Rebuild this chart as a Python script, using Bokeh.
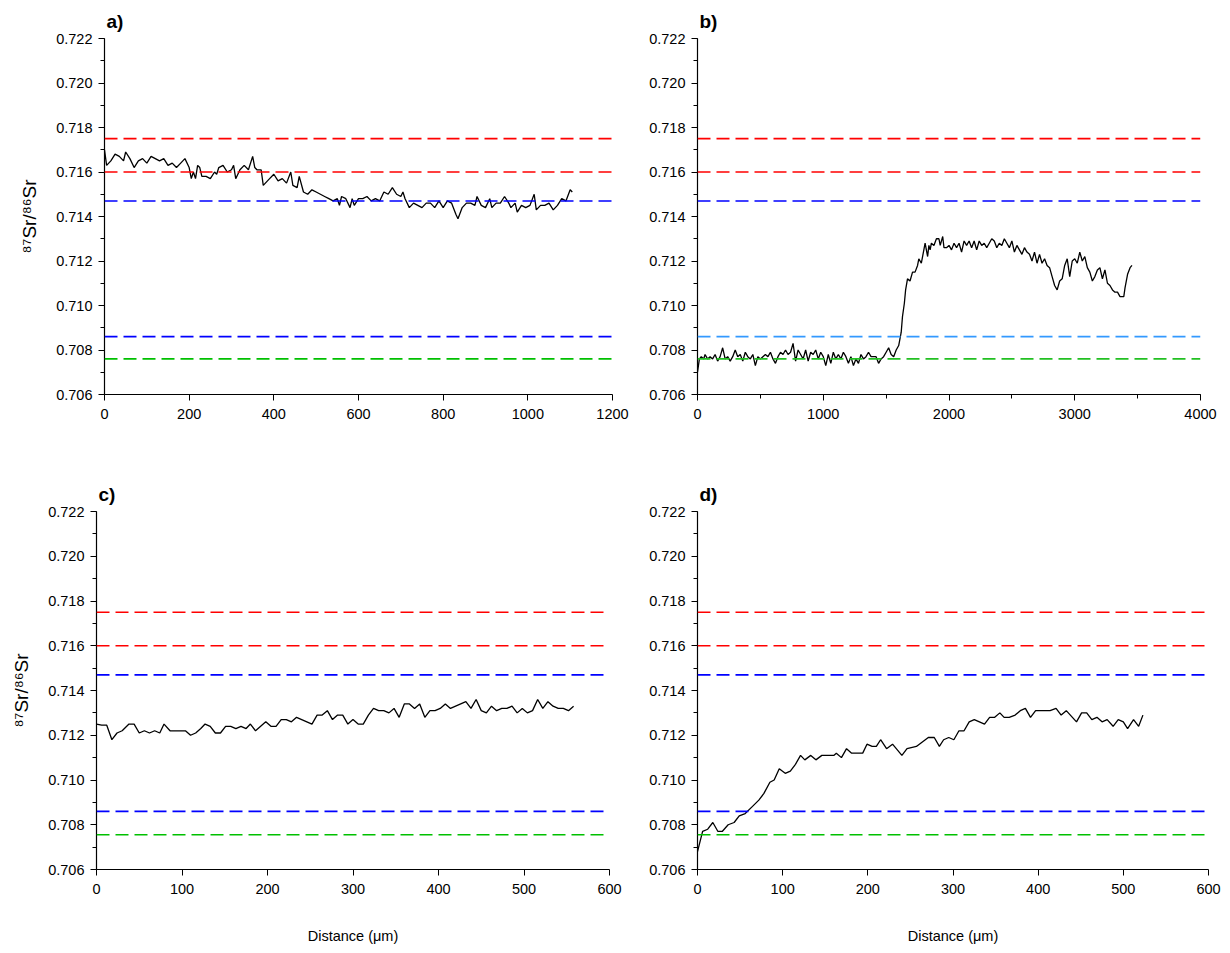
from bokeh.plotting import figure
from bokeh.layouts import column, row
from bokeh.models import Range1d, SingleIntervalTicker, Span, PrintfTickFormatter
from bokeh.embed import file_html
from bokeh.resources import INLINE

# ---------------- data ----------------
y_label_text = "\u2078\u2077Sr/\u2078\u2076Sr"
x_label_text = "Distance (\u03bcm)"
panel_letters = ["a)", "b)", "c)", "d)"]

ref_a = [0.7175, 0.7160, 0.7147, 0.7086, 0.7076]
ref_b = [0.7175, 0.7160, 0.7147, 0.7086, 0.7076]
ref_c = [0.7175, 0.7160, 0.7147, 0.7086, 0.70755]
ref_d = [0.7175, 0.7160, 0.7147, 0.7086, 0.70755]
ref_colors_a = ["#FF0000", "#FF0000", "#0000FF", "#0000FF", "#00C000"]
ref_colors_b = ["#FF0000", "#FF0000", "#0000FF", "#3399FF", "#22C022"]

a_x = [0, 5, 15, 25, 35, 45, 50, 60, 70, 80, 90, 100, 110, 120, 130, 140, 150, 160, 170, 180,
       190, 200, 205, 210, 215, 220, 225, 230, 240, 250, 260, 265, 270, 280, 290, 300, 305, 310,
       320, 330, 340, 350, 355, 360, 370, 375, 390, 400, 410, 420, 430, 440, 445, 455, 460, 470,
       480, 490, 500, 510, 520, 530, 540, 550, 555, 560, 570, 580, 585, 590, 600, 610, 620, 630,
       640, 650, 660, 670, 680, 690, 700, 705, 710, 720, 730, 740, 750, 760, 770, 780, 790, 800,
       810, 820, 830, 835, 845, 855, 865, 875, 880, 890, 900, 910, 915, 925, 935, 945, 955, 960,
       970, 975, 985, 995, 1005, 1015, 1020, 1030, 1040, 1050, 1060, 1070, 1080, 1090, 1100, 1105]
a_y = [0.7170, 0.7163, 0.7165, 0.7168, 0.7167, 0.7165, 0.7169, 0.7166, 0.7162, 0.7165, 0.7166,
       0.7164, 0.7167, 0.7166, 0.7165, 0.7166, 0.7163, 0.7164, 0.7162, 0.7164, 0.7166, 0.7162,
       0.7157, 0.7160, 0.7157, 0.7163, 0.7162, 0.7158, 0.7158, 0.7157, 0.7160, 0.7159, 0.7162,
       0.7163, 0.7160, 0.7161, 0.7163, 0.7157, 0.7161, 0.7163, 0.7161, 0.7167, 0.7162, 0.7161,
       0.7161, 0.7154, 0.7157, 0.7159, 0.7156, 0.7157, 0.7155, 0.7160, 0.7154, 0.7153, 0.7158,
       0.7151, 0.7150, 0.7152, 0.7151, 0.7150, 0.7149, 0.7148, 0.7147, 0.7148, 0.7145, 0.7149,
       0.7148, 0.7144, 0.7148, 0.7145, 0.7148, 0.7148, 0.7149, 0.7147, 0.7148, 0.7147, 0.7151,
       0.7150, 0.7153, 0.7150, 0.7149, 0.7151, 0.7148, 0.7144, 0.7146, 0.7145, 0.7144, 0.7146,
       0.7146, 0.7144, 0.7147, 0.7144, 0.7147, 0.7146, 0.7141, 0.7139, 0.7144, 0.7146, 0.7146,
       0.7145, 0.7149, 0.7145, 0.7144, 0.7148, 0.7144, 0.7146, 0.7146, 0.7149, 0.7146, 0.7144,
       0.7146, 0.7142, 0.7145, 0.7144, 0.7145, 0.7150, 0.7143, 0.7145, 0.7145, 0.7146, 0.7143,
       0.7145, 0.7148, 0.7147, 0.7152, 0.7151]

b_x = [0, 15, 30, 50, 60, 80, 100, 120, 140, 160, 180, 200, 220, 240, 260, 280, 300, 320, 340,
       360, 380, 400, 420, 440, 460, 480, 500, 520, 540, 560, 580, 600, 620, 640, 660, 680, 700,
       720, 740, 760, 770, 780, 800, 820, 840, 860, 880, 900, 920, 940, 960, 980, 1000, 1020,
       1040, 1060, 1080, 1100, 1120, 1140, 1160, 1180, 1200, 1220, 1240, 1260, 1280, 1300, 1320,
       1340, 1360, 1380, 1400, 1420, 1440, 1460, 1480, 1500, 1520, 1540, 1560, 1580, 1600, 1610,
       1620, 1630, 1645, 1655, 1670, 1690, 1710, 1730, 1750, 1760, 1780, 1800, 1810, 1830, 1840,
       1850, 1860, 1880, 1900, 1920, 1930, 1950, 1960, 1980, 2000, 2020, 2040, 2060, 2080, 2100,
       2120, 2140, 2160, 2180, 2200, 2220, 2240, 2260, 2280, 2300, 2320, 2340, 2360, 2380, 2400,
       2420, 2440, 2460, 2480, 2500, 2520, 2540, 2560, 2580, 2600, 2620, 2640, 2660, 2680, 2700,
       2720, 2740, 2760, 2780, 2800, 2820, 2840, 2860, 2880, 2900, 2920, 2940, 2960, 2980, 3000,
       3020, 3040, 3060, 3080, 3100, 3120, 3140, 3160, 3180, 3200, 3220, 3240, 3260, 3280, 3300,
       3320, 3340, 3360, 3380, 3390, 3400, 3420, 3440, 3455]
b_y = [0.7070, 0.7076, 0.7077, 0.7076, 0.7078, 0.7076, 0.7077, 0.7076, 0.7078, 0.7075, 0.7077,
       0.7081, 0.7076, 0.7077, 0.7075, 0.7077, 0.7080, 0.7077, 0.7078, 0.7075, 0.7079, 0.7077,
       0.7076, 0.7078, 0.7073, 0.7077, 0.7076, 0.7077, 0.7078, 0.7077, 0.7079, 0.7076, 0.7074,
       0.7077, 0.7079, 0.7078, 0.7080, 0.7078, 0.7079, 0.7083, 0.7079, 0.7075, 0.7080, 0.7078,
       0.7076, 0.7080, 0.7075, 0.7079, 0.7078, 0.7080, 0.7076, 0.7079, 0.7077, 0.7073, 0.7078,
       0.7074, 0.7079, 0.7076, 0.7078, 0.7076, 0.7079, 0.7077, 0.7074, 0.7077, 0.7073, 0.7076,
       0.7074, 0.7078, 0.7076, 0.7077, 0.7079, 0.7077, 0.7077, 0.7077, 0.7074, 0.7076, 0.7077,
       0.7079, 0.7081, 0.7078, 0.7077, 0.7080, 0.7082, 0.7085, 0.7088, 0.7095, 0.7101, 0.7107,
       0.7112, 0.7111, 0.7115, 0.7115, 0.7118, 0.7121, 0.7119, 0.7125, 0.7128, 0.7122, 0.7127,
       0.7125, 0.7128, 0.7127, 0.7130, 0.7130, 0.7127, 0.7131, 0.7126, 0.7126, 0.7127, 0.7125,
       0.7128, 0.7126, 0.7128, 0.7124, 0.7129, 0.7127, 0.7129, 0.7126, 0.7129, 0.7125, 0.7129,
       0.7127, 0.7128, 0.7126, 0.7128, 0.7130, 0.7129, 0.7126, 0.7128, 0.7127, 0.7130, 0.7128,
       0.7126, 0.7129, 0.7124, 0.7127, 0.7125, 0.7123, 0.7126, 0.7124, 0.7123, 0.7120, 0.7124,
       0.7119, 0.7123, 0.7119, 0.7121, 0.7118, 0.7117, 0.7113, 0.7109, 0.7107, 0.7111, 0.7112,
       0.7118, 0.7121, 0.7113, 0.7120, 0.7121, 0.7119, 0.7124, 0.7120, 0.7122, 0.7117, 0.7115,
       0.7111, 0.7113, 0.7116, 0.7117, 0.7112, 0.7116, 0.7110, 0.7109, 0.7107, 0.7106, 0.7106,
       0.7104, 0.7104, 0.7104, 0.7108, 0.7114, 0.7117, 0.7118]

c_x = [0, 6, 12, 18, 24, 30, 38, 44, 50, 56, 62, 68, 74, 79, 86, 92, 98, 104, 110, 116, 122,
       127, 133, 139, 145, 151, 157, 163, 169, 175, 180, 186, 192, 198, 204, 210, 216, 222, 228,
       234, 240, 246, 252, 258, 264, 270, 276, 282, 288, 294, 300, 306, 312, 318, 324, 330, 336,
       342, 348, 354, 360, 366, 372, 378, 384, 390, 396, 402, 408, 414, 420, 426, 432, 438, 444,
       450, 456, 462, 468, 474, 480, 486, 492, 498, 504, 510, 516, 522, 528, 534, 540, 546, 552,
       558]
c_y = [0.7125, 0.71245, 0.71245, 0.7118, 0.7121, 0.7122, 0.7125, 0.7125, 0.7121, 0.7122, 0.7121,
       0.7122, 0.7121, 0.7125, 0.7122, 0.7122, 0.7122, 0.7122, 0.7120, 0.7121, 0.7123, 0.7125,
       0.7124, 0.7121, 0.7121, 0.7124, 0.7124, 0.7123, 0.7124, 0.7123, 0.7125, 0.7122, 0.7124,
       0.7126, 0.7124, 0.7124, 0.7127, 0.7127, 0.7126, 0.7128, 0.7127, 0.7126, 0.7125, 0.7129,
       0.7129, 0.7131, 0.7127, 0.7129, 0.7129, 0.7125, 0.7127, 0.7125, 0.7125, 0.7129, 0.7132,
       0.7131, 0.7131, 0.7130, 0.7132, 0.7128, 0.7134, 0.7134, 0.7132, 0.7134, 0.7128, 0.7131,
       0.7131, 0.7132, 0.7134, 0.7132, 0.7133, 0.7134, 0.7135, 0.7132, 0.7136, 0.7131, 0.7130,
       0.7133, 0.7131, 0.7132, 0.7132, 0.7133, 0.7130, 0.7132, 0.7130, 0.7131, 0.7136, 0.7132,
       0.7135, 0.7133, 0.7132, 0.7132, 0.7131, 0.7133]

d_x = [0, 6, 12, 18, 24, 29, 36, 43, 49, 56, 64, 72, 78, 85, 90, 96, 103, 109, 115, 121, 126,
       133, 139, 146, 153, 160, 163, 169, 175, 181, 188, 194, 199, 205, 210, 215, 222, 229, 240,
       246, 257, 264, 271, 278, 284, 289, 295, 301, 307, 313, 319, 325, 331, 337, 343, 349, 355,
       360, 366, 373, 379, 385, 391, 397, 405, 414, 421, 427, 433, 445, 451, 457, 463, 469, 475,
       481, 488, 494, 500, 505, 512, 518, 523]
d_y = [0.7068, 0.7077, 0.7078, 0.7081, 0.7077, 0.7077, 0.7080, 0.7081, 0.7084, 0.7085, 0.7088,
       0.7091, 0.7094, 0.7099, 0.7100, 0.7105, 0.7103, 0.7104, 0.7107, 0.7111, 0.7109, 0.7111,
       0.7109, 0.7111, 0.7111, 0.7111, 0.7112, 0.7110, 0.7114, 0.7112, 0.7112, 0.7112, 0.7116,
       0.7115, 0.7115, 0.7118, 0.7114, 0.7116, 0.7111, 0.7114, 0.7115, 0.7117, 0.7119, 0.7119,
       0.7115, 0.7118, 0.7119, 0.7118, 0.7122, 0.7122, 0.7126, 0.7127, 0.7126, 0.7125, 0.7128,
       0.7128, 0.7130, 0.7128, 0.7128, 0.7129, 0.7131, 0.7132, 0.7128, 0.7131, 0.7131, 0.7131,
       0.7132, 0.7129, 0.7131, 0.7126, 0.7130, 0.7130, 0.7127, 0.7128, 0.7126, 0.7127, 0.7124,
       0.7127, 0.7126, 0.7123, 0.7127, 0.7124, 0.7129]

FONT = "Liberation Sans"


def make_panel(xs, ys, xmax, xint, xminor, refs, colors, letter, w, h, bl, br, bt, bb,
               ylabel=False, xlabel=False):
    p = figure(width=w, height=h, x_range=Range1d(0, xmax), y_range=Range1d(0.706, 0.722),
               output_backend="svg", toolbar_location=None,
               min_border_left=bl, min_border_right=br, min_border_top=bt, min_border_bottom=bb)
    p.outline_line_color = None
    p.grid.visible = False
    p.background_fill_color = "white"
    p.border_fill_color = "white"

    p.title.text = letter
    p.title.align = "left"
    p.title.offset = 2
    p.title.standoff = 14
    p.title.text_font = FONT
    p.title.text_font_size = "19px"
    p.title.text_font_style = "bold"
    p.title.text_color = "black"

    p.xaxis.ticker = SingleIntervalTicker(interval=xint, num_minor_ticks=max(xminor, 1))
    p.yaxis.ticker = SingleIntervalTicker(interval=0.002, num_minor_ticks=2)
    p.yaxis.formatter = PrintfTickFormatter(format="%.3f")
    for ax in (p.xaxis, p.yaxis):
        ax.axis_line_color = "black"
        ax.axis_line_width = 1.2
        ax.major_tick_line_color = "black"
        ax.minor_tick_line_color = "black"
        ax.major_tick_in = 0
        ax.major_tick_out = 6
        ax.minor_tick_in = 0
        ax.minor_tick_out = 4
        ax.major_label_text_font = FONT
        ax.major_label_text_font_size = "14.5px"
        ax.major_label_text_color = "black"
    if xminor == 0:
        p.xaxis.minor_tick_line_color = None
    p.yaxis.major_label_standoff = 6
    p.xaxis.major_label_standoff = 8

    for v, c in zip(refs, colors):
        p.add_layout(Span(location=v, dimension="width", line_color=c, line_width=1.6,
                          line_dash="13 6"))

    p.line(xs, ys, line_color="black", line_width=1.3)

    if ylabel:
        p.yaxis.axis_label = y_label_text
        p.yaxis.axis_label_text_font = FONT
        p.yaxis.axis_label_text_font_size = "19px"
        p.yaxis.axis_label_text_font_style = "normal"
        p.yaxis.axis_label_text_color = "black"
        p.yaxis.axis_label_standoff = 13
    if xlabel:
        p.xaxis.axis_label = x_label_text
        p.xaxis.axis_label_text_font = FONT
        p.xaxis.axis_label_text_font_size = "14.5px"
        p.xaxis.axis_label_text_font_style = "normal"
        p.xaxis.axis_label_text_color = "black"
        p.xaxis.axis_label_standoff = 31
    return p


pa = make_panel(a_x, a_y, 1200, 200, 0, ref_a, ref_colors_a, panel_letters[0],
                640, 470, 104, 28, 38, 76, ylabel=True)
pb = make_panel(b_x, b_y, 4000, 1000, 2, ref_b, ref_colors_b, panel_letters[1],
                590, 470, 57, 30, 38, 76)
pc = make_panel(c_x, c_y, 600, 100, 0, ref_c, ref_colors_a, panel_letters[2],
                640, 483, 96, 31, 41, 84, ylabel=True, xlabel=True)
pd = make_panel(d_x, d_y, 600, 100, 0, ref_d, ref_colors_a, panel_letters[3],
                590, 483, 57, 22, 41, 84, xlabel=True)

layout = column(row(pa, pb), row(pc, pd))

open("out.html", "w").write(file_html(layout, INLINE))
